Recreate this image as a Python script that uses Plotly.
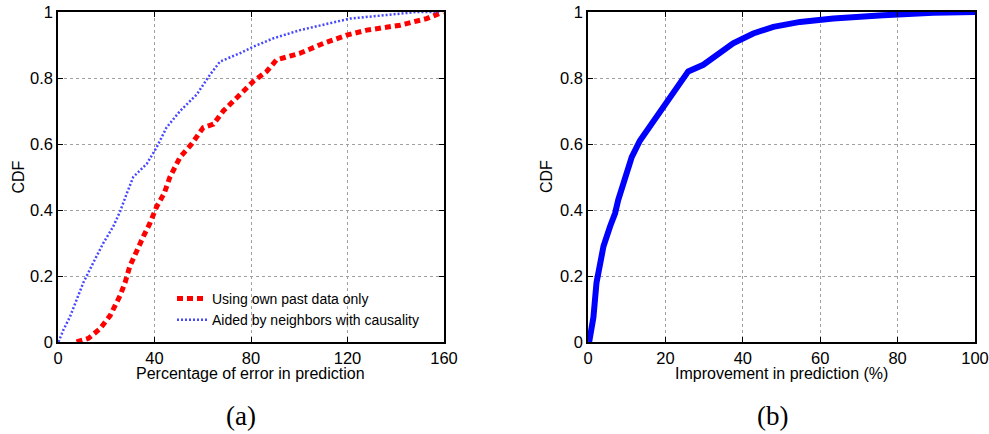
import plotly.graph_objects as go

# Panel (a): CDF of percentage of error in prediction
own_x = [7.7, 12.6, 17.4, 21.6, 25.7, 27.8, 29.8, 32.6, 35.4, 38.1, 40.9, 44.0, 46.4, 50.6, 55.4, 60.2, 64.4, 68.5, 75.4, 81.0, 86.5, 90.6, 100.3, 110.0, 119.7, 128.0, 141.8, 152.8, 159.6]
own_y = [0.0, 0.011, 0.04, 0.08, 0.14, 0.18, 0.23, 0.28, 0.32, 0.36, 0.41, 0.45, 0.50, 0.56, 0.60, 0.65, 0.66, 0.70, 0.75, 0.79, 0.82, 0.855, 0.875, 0.905, 0.93, 0.945, 0.96, 0.98, 1.0]

aid_x = [0.2, 2.2, 5.0, 7.7, 10.5, 14.6, 18.8, 22.9, 25.7, 28.5, 31.2, 36.8, 40.9, 45.0, 50.6, 57.5, 63.0, 67.2, 75.4, 81.0, 89.2, 100.3, 111.4, 121.0, 134.9, 148.7, 158.0]
aid_y = [0.0, 0.036, 0.077, 0.127, 0.18, 0.24, 0.30, 0.35, 0.395, 0.45, 0.50, 0.54, 0.59, 0.65, 0.70, 0.75, 0.81, 0.85, 0.875, 0.895, 0.92, 0.945, 0.965, 0.98, 0.99, 1.0, 1.0]

# Panel (b): CDF of improvement in prediction (%)
imp_x = [0.3, 1.4, 2.2, 3.1, 4.0, 5.7, 7.0, 7.8, 9.1, 11.3, 13.4, 16.9, 20.3, 23.3, 25.9, 29.8, 33.3, 37.5, 42.7, 47.9, 54.8, 63.4, 76.3, 89.2, 100.0]
imp_y = [0.0, 0.075, 0.18, 0.24, 0.29, 0.35, 0.39, 0.43, 0.48, 0.56, 0.61, 0.67, 0.73, 0.78, 0.82, 0.84, 0.87, 0.905, 0.935, 0.955, 0.97, 0.98, 0.99, 0.998, 1.0]

xticks_a = [0, 40, 80, 120, 160]
xticks_b = [0, 20, 40, 60, 80, 100]
yticks = [0, 0.2, 0.4, 0.6, 0.8, 1]
ytick_labels = ["0", "0.2", "0.4", "0.6", "0.8", "1"]

W, H = 989, 434
fig = go.Figure()

fig.add_trace(go.Scatter(x=own_x, y=own_y, mode="lines", name="Using own past data only",
                         line=dict(color="#ff0000", width=5, dash="6px,4px"),
                         xaxis="x", yaxis="y"))
fig.add_trace(go.Scatter(x=aid_x, y=aid_y, mode="lines", name="Aided by neighbors with causality",
                         line=dict(color="#4848ff", width=2.5, dash="2px,2px"),
                         xaxis="x", yaxis="y"))
fig.add_trace(go.Scatter(x=imp_x, y=imp_y, mode="lines", showlegend=False,
                         line=dict(color="#0000ff", width=6),
                         xaxis="x2", yaxis="y2"))

fam = "Liberation Sans, Arial, sans-serif"
tickfont = dict(family=fam, size=16.5, color="black")
titlefont = dict(family=fam, size=16, color="black")
common = dict(showline=True, linecolor="black", linewidth=1.5, mirror="ticks",
              ticks="inside", ticklen=5, tickcolor="black", automargin=False,
              ticklabeloverflow="allow",
              showgrid=True, gridcolor="#a0a0a0", griddash="dot", gridwidth=1,
              zeroline=False, tickfont=tickfont)

ydom = [1 - 342 / H, 1 - 12 / H]
xa = [58, 444]
xb = [588, 975]
serif = dict(family="Liberation Serif, DejaVu Serif, serif", size=27, color="black")


def ann(text, x, y, font, angle=0):
    return dict(text=text, x=x / W, y=1 - y / H, xref="paper", yref="paper", showarrow=False,
                xanchor="center", yanchor="middle", font=font, textangle=angle)


fig.update_layout(
    width=W, height=H, margin=dict(l=0, r=0, t=0, b=0, autoexpand=False),
    paper_bgcolor="white", plot_bgcolor="white", font=titlefont,
    xaxis=dict(domain=[xa[0] / W, xa[1] / W], range=[0, 160], tickvals=xticks_a, anchor="y", **common),
    yaxis=dict(domain=ydom, range=[0, 1], tickvals=yticks, ticktext=ytick_labels, anchor="x", **common),
    xaxis2=dict(domain=[xb[0] / W, xb[1] / W], range=[0, 100], tickvals=xticks_b, anchor="y2", **common),
    yaxis2=dict(domain=ydom, range=[0, 1], tickvals=yticks, ticktext=ytick_labels, anchor="x2", **common),
    legend=dict(x=172 / W, y=1 - 283 / H, xanchor="left", yanchor="top",
                bgcolor="rgba(0,0,0,0)", font=dict(family=fam, size=14, color="black"),
                itemwidth=30, tracegroupgap=0),
    annotations=[
        ann("Percentage of error in prediction", (xa[0] + xa[1]) / 2, 373, titlefont),
        ann("Improvement in prediction (%)", (xb[0] + xb[1]) / 2, 373, titlefont),
        ann("CDF", 18.5, 177, titlefont, -90),
        ann("CDF", 547, 177, titlefont, -90),
        ann("(a)", 241, 416, serif),
        ann("(b)", 772, 416, serif),
    ],
)

fig.write_html("out.html")
